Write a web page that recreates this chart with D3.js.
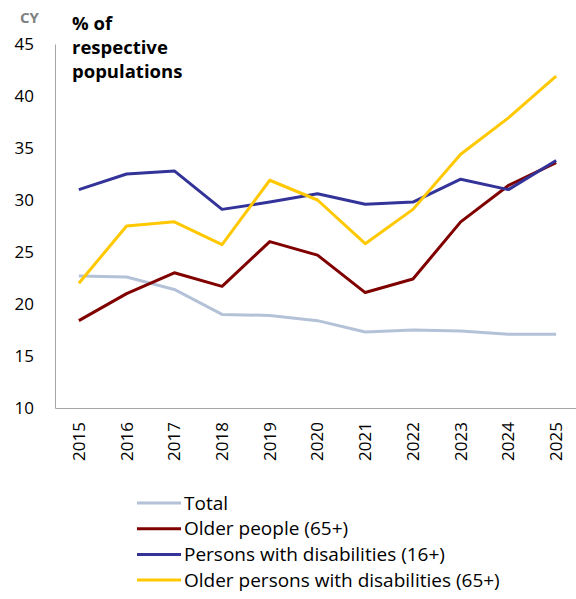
<!DOCTYPE html>
<html>
<head>
<meta charset="utf-8">
<script src="https://cdn.jsdelivr.net/npm/d3@7"></script>
<style>
  html, body { margin: 0; padding: 0; background: #fff; }
  svg { display: block; font-family: "Open Sans", "Noto Sans", "Liberation Sans", sans-serif; }
</style>
</head>
<body>
<svg id="chart" width="576" height="599"></svg>
<script>
// Years on the category axis
const years = ["2015","2016","2017","2018","2019","2020","2021","2022","2023","2024","2025"];

// Share of each population group (%)
const total            = [22.7, 22.6, 21.4, 19.0, 18.9, 18.4, 17.3, 17.5, 17.4, 17.1, 17.1];
const olderPeople      = [18.4, 21.0, 23.0, 21.7, 26.0, 24.7, 21.1, 22.4, 27.9, 31.4, 33.6];
const disabled16       = [31.0, 32.5, 32.8, 29.1, 29.8, 30.6, 29.6, 29.8, 32.0, 31.0, 33.8];
const olderDisabled65  = [22.0, 27.5, 27.9, 25.7, 31.9, 30.0, 25.8, 29.1, 34.4, 37.9, 41.9];

const seriesNames  = ["Total", "Older people (65+)", "Persons with disabilities (16+)", "Older persons with disabilities (65+)"];
const seriesColors = ["#b4c2d8", "#800000", "#333399", "#ffc800"];

const yTicks = [10, 15, 20, 25, 30, 35, 40, 45];

const series = [total, olderPeople, disabled16, olderDisabled65].map((values, i) => ({
  name: seriesNames[i],
  color: seriesColors[i],
  values
}));

const FONT = "'Open Sans', 'Noto Sans', sans-serif";
const svg = d3.select("#chart");
const plot = { left: 55, right: 580, top: 44, bottom: 408 };

const x = d3.scaleBand().domain(years).range([plot.left, plot.right]);
const y = d3.scaleLinear().domain([10, 45]).range([plot.bottom, plot.top]);
const cx = d => x(d) + x.bandwidth() / 2;

// Country code
svg.append("text").attr("x", 20).attr("y", 23)
  .attr("font-size", 15).attr("font-weight", "bold").attr("fill", "#808080")
  .text("CY");

// Y axis
const yAxis = svg.append("g").attr("transform", `translate(${plot.left},0)`)
  .call(d3.axisLeft(y).tickValues(yTicks).tickSize(0).tickPadding(21));
yAxis.select(".domain").attr("stroke", "#a6a6a6");
yAxis.selectAll("text").attr("font-size", 17).attr("fill", "#000")
  .attr("font-family", FONT);

// X axis
const xAxis = svg.append("g").attr("transform", `translate(0,${plot.bottom})`)
  .call(d3.axisBottom(x).tickSize(0));
xAxis.select(".domain").attr("stroke", "#a6a6a6");
xAxis.selectAll("text")
  .attr("font-size", 17).attr("fill", "#000")
  .attr("font-family", FONT)
  .attr("text-anchor", "end")
  .attr("dy", "0.35em")
  .attr("transform", "translate(0,14) rotate(-90)")
  .attr("x", 0).attr("y", 0);

// Unit title
const title = svg.append("text").attr("x", 72).attr("font-size", 18.5)
  .attr("font-weight", "bold").attr("fill", "#000");
["% of", "respective", "populations"].forEach((t, i) => {
  title.append("tspan").attr("x", 72).attr("y", 30 + i * 24).text(t);
});

// Lines
const line = d3.line().x((d, i) => cx(years[i])).y(d => y(d));
svg.append("g").selectAll("path").data(series).join("path")
  .attr("d", d => line(d.values))
  .attr("fill", "none")
  .attr("stroke", d => d.color)
  .attr("stroke-width", 3)
  .attr("stroke-linejoin", "round");

// Legend
const legend = svg.append("g");
series.forEach((s, i) => {
  const ly = 503 + i * 25.7;
  legend.append("line").attr("x1", 137).attr("x2", 181)
    .attr("y1", ly).attr("y2", ly)
    .attr("stroke", s.color).attr("stroke-width", 3);
  legend.append("text").attr("x", 184).attr("y", ly).attr("dy", "0.35em")
    .attr("font-size", 19).attr("fill", "#000").text(s.name);
});
</script>
</body>
</html>
